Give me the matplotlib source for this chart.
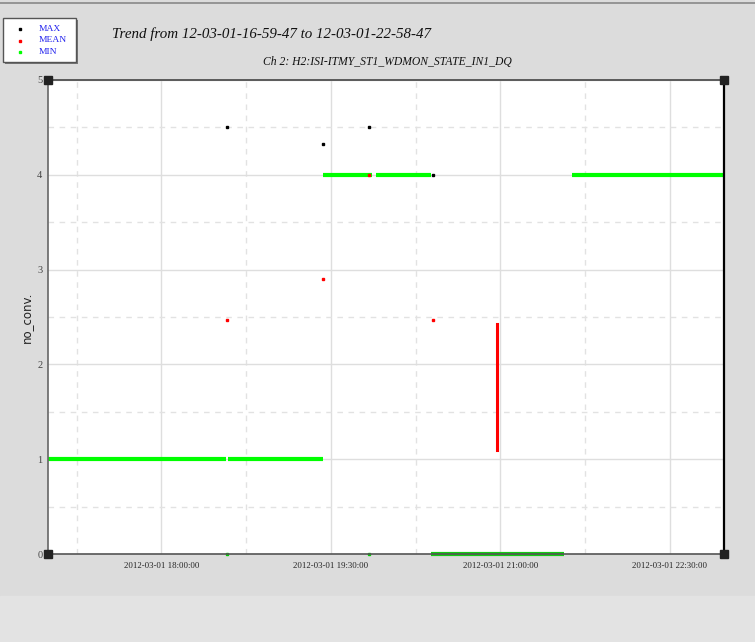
import numpy as np
import pandas as pd
import matplotlib
matplotlib.use('Agg')
import matplotlib.pyplot as plt
import matplotlib.dates as mdates
from matplotlib.lines import Line2D
from matplotlib.patches import Rectangle

DAY = '2012-03-01 '
T0, T1 = '16:59:47', '22:58:47'

# MIN trend: flat stretches (start, end, value) plus isolated samples
min_seg_start = ['16:59:47', '18:35:30', '19:26', '19:54', '20:23', '21:38']
min_seg_end = ['18:34:30', '19:26', '19:52', '20:23', '21:34', '22:58:47']
min_seg_value = [1, 1, 4, 4, 0, 4]
min_pt_t = ['18:35', '19:50']
min_pt_v = [0, 0]

# MAX trend samples that stand out from the MIN line
max_t = ['18:35', '19:26', '19:50', '20:24']
max_v = [4.5, 4.33, 4.5, 4.0]

# MEAN trend samples
mean_t = ['18:35', '19:26', '19:50', '20:24']
mean_v = [2.47, 2.9, 4.0, 2.47]
mean_bar_t = ['20:58', '20:58']
mean_bar_v = [1.1, 2.43]

xticks_major = ['18:00', '19:30', '21:00', '22:30']
xticks_minor = ['17:15', '18:45', '20:15', '21:45']

ts = lambda s: pd.to_datetime(DAY + s) if len(s) > 5 else pd.to_datetime(DAY + s + ':00')
tl = lambda L: [ts(s) for s in L]

GREEN, RED, BLACK = '#00ff00', '#ff0000', '#000000'
BG = '#dcdcdc'
SERIF = ['Liberation Serif', 'DejaVu Serif']

fig = plt.figure(figsize=(7.55, 6.42), dpi=100, facecolor=BG)
fig.patches.append(Rectangle((0, 0), 1, 46/642, transform=fig.transFigure, color='#e3e3e3', zorder=0))
fig.add_artist(Line2D([0, 1], [1-2.5/642]*2, transform=fig.transFigure, color='#888888', lw=1.2))

ax = fig.add_axes([48/755, 1-554/642, 676/755, 474/642])
ax.set_facecolor('white')

for s, e, v in zip(min_seg_start, min_seg_end, min_seg_value):
    ax.plot([ts(s), ts(e)], [v, v], color=GREEN if v else '#11cc11', lw=3, solid_capstyle='butt', zorder=2, clip_on=False)
ax.plot(tl(min_pt_t), min_pt_v, 's', color='#00cc00', ms=2, zorder=2, clip_on=False)
ax.plot(tl(max_t), max_v, 's', color=BLACK, ms=2, zorder=4)
ax.plot(tl(mean_t), mean_v, 's', color=RED, ms=2, zorder=4)
ax.plot(tl(mean_bar_t), mean_bar_v, color=RED, lw=2.2, zorder=4)

ax.set_xlim(ts(T0), ts(T1))
ax.set_ylim(0, 5)
ax.set_xticks(tl(xticks_major))
ax.set_xticks(tl(xticks_minor), minor=True)
ax.xaxis.set_major_formatter(mdates.DateFormatter('%Y-%m-%d %H:%M:%S'))
ax.set_yticks([0, 1, 2, 3, 4, 5])
ax.set_yticks([0.5, 1.5, 2.5, 3.5, 4.5], minor=True)
ax.grid(which='major', color='#dedede', lw=1, ls='-')
ax.grid(which='minor', color='#e2e2e2', lw=1, ls=(0, (4, 4)))
ax.set_axisbelow(True)
ax.tick_params(which='both', length=0)
ax.tick_params(axis='x', pad=6)
ax.tick_params(axis='y', pad=4)
for lab in ax.get_xticklabels():
    lab.set_fontfamily(SERIF); lab.set_fontsize(6.3); lab.set_color('#222222')
for lab in ax.get_yticklabels():
    lab.set_fontfamily(SERIF); lab.set_fontsize(7.5); lab.set_color('#444444')
ax.set_ylabel('no_conv.', fontsize=8.5, color='#222222', labelpad=3)

for side, c, w in [('left', '#666666', 1.2), ('bottom', '#555555', 1.2), ('top', '#444444', 1.2), ('right', '#000000', 1.6)]:
    ax.spines[side].set_color(c); ax.spines[side].set_linewidth(w)

# corner handles
ax.plot([0, 1, 0, 1], [0, 0, 1, 1], 's', color='#222222', ms=6, transform=ax.transAxes, clip_on=False, zorder=6)

fig.text(112/755, 1-34/642, 'Trend from 12-03-01-16-59-47 to 12-03-01-22-58-47',
         fontfamily=SERIF, fontstyle='italic', fontsize=10.8, va='center', ha='left', color='#111111')
fig.text(387/755, 1-62/642, 'Ch 2: H2:ISI-ITMY_ST1_WDMON_STATE_IN1_DQ',
         fontfamily=SERIF, fontstyle='italic', fontsize=8.4, va='center', ha='center', color='#111111')

# legend box
fig.patches.append(Rectangle((5/755, 1-64/642), 73/755, 44/642, transform=fig.transFigure,
                             facecolor='#777777', edgecolor='none', zorder=5))
fig.patches.append(Rectangle((3/755, 1-62/642), 73/755, 44/642, transform=fig.transFigure,
                             facecolor='white', edgecolor='#555555', lw=1, zorder=6))
for i, (lab, c) in enumerate([('MAX', BLACK), ('MEAN', RED), ('MIN', GREEN)]):
    y = 1 - (29 + i*11.5)/642
    fig.add_artist(Line2D([20/755], [y], marker='s', color=c, ms=2, transform=fig.transFigure, zorder=7))
    fig.text(39/755, y, lab, fontfamily=SERIF, fontsize=6.8, color='#2222ee', va='center', ha='left', zorder=7)

fig.savefig('out.png', dpi=100, facecolor=BG)
